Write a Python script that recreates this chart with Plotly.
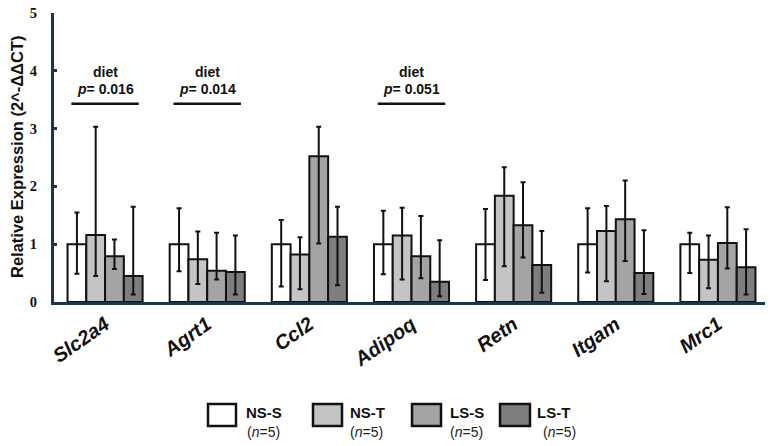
import plotly.graph_objects as go

genes = ["Slc2a4", "Agrt1", "Ccl2", "Adipoq", "Retn", "Itgam", "Mrc1"]
groups = ["NS-S", "NS-T", "LS-S", "LS-T"]
colors = ["#ffffff", "#c4c4c4", "#a4a4a4", "#7e7e7e"]

ns_s = [1.00, 1.00, 1.00, 1.00, 1.00, 1.00, 1.00]
ns_t = [1.16, 0.74, 0.82, 1.15, 1.84, 1.23, 0.73]
ls_s = [0.79, 0.54, 2.52, 0.79, 1.33, 1.43, 1.02]
ls_t = [0.45, 0.52, 1.13, 0.35, 0.64, 0.50, 0.60]

ns_s_hi = [1.55, 1.62, 1.42, 1.58, 1.61, 1.62, 1.20]
ns_s_lo = [0.49, 0.53, 0.27, 0.48, 0.38, 0.51, 0.50]
ns_t_hi = [3.03, 1.22, 1.12, 1.63, 2.33, 1.66, 1.15]
ns_t_lo = [0.45, 0.31, 0.22, 0.39, 0.62, 0.36, 0.24]
ls_s_hi = [1.08, 1.20, 3.03, 1.49, 2.07, 2.10, 1.64]
ls_s_lo = [0.57, 0.39, 1.01, 0.41, 0.77, 0.71, 0.58]
ls_t_hi = [1.65, 1.15, 1.65, 1.07, 1.23, 1.24, 1.26]
ls_t_lo = [0.13, 0.13, 0.29, 0.10, 0.16, 0.14, 0.13]

stat_genes = ["Slc2a4", "Agrt1", "Adipoq"]
stat_p = ["0.016", "0.014", "0.051"]

means = [ns_s, ns_t, ls_s, ls_t]
his = [ns_s_hi, ns_t_hi, ls_s_hi, ls_t_hi]
los = [ns_s_lo, ns_t_lo, ls_s_lo, ls_t_lo]

# the page places the figure 8 px in from the top-left corner
OFF = 8
W, H = 773 - OFF, 446 - OFF
ML, MR, MT, MB = 46, 4, 5, 144
PW, PH = W - ML - MR, H - MT - MB


def px(x, y):
    # screen pixel -> paper coords
    return (x - OFF - ML) / PW, (H - MB - (y - OFF)) / PH


fig = go.Figure()
for name, col, m, hi, lo in zip(groups, colors, means, his, los):
    fig.add_trace(go.Bar(
        x=genes, y=m, name=name,
        marker=dict(color=col, line=dict(color="#111111", width=2)),
        error_y=dict(type="data", symmetric=False,
                     array=[h - v for h, v in zip(hi, m)],
                     arrayminus=[v - l for v, l in zip(m, lo)],
                     color="#111111", thickness=2, width=2.5),
        showlegend=False,
    ))

shapes = []
annotations = []
for g, p in zip(stat_genes, stat_p):
    i = genes.index(g)
    shapes.append(dict(type="line", xref="x", yref="y", x0=i - 0.33, x1=i + 0.33,
                       y0=3.43, y1=3.43, line=dict(color="#111111", width=2.5)))
    annotations.append(dict(x=g, y=3.98, xref="x", yref="y", text="<b>diet</b>",
                            showarrow=False, font=dict(family="Liberation Sans", size=14, color="#111111")))
    annotations.append(dict(x=g, y=3.68, xref="x", yref="y", text="<b><i>p</i>= " + p + "</b>",
                            showarrow=False, font=dict(family="Liberation Sans", size=14, color="#111111")))

# custom legend
leg_boxes = [(208, 236), (313, 342), (412, 441), (500, 530)]
leg_text_x = [244, 348, 448, 535]
leg_n_x = [245, 348, 448, 541]
for (x0, x1), tx, nx, name, col in zip(leg_boxes, leg_text_x, leg_n_x, groups, colors):
    a0, b0 = px(x0, 426)
    a1, b1 = px(x1, 404)
    shapes.append(dict(type="rect", xref="paper", yref="paper", x0=a0, x1=a1, y0=b0, y1=b1,
                       fillcolor=col, line=dict(color="#111111", width=2.5)))
    ax, ay = px(tx, 412)
    annotations.append(dict(x=ax, y=ay, xref="paper", yref="paper", xanchor="left", yanchor="middle",
                            text="<b>" + name + "</b>", showarrow=False,
                            font=dict(family="Liberation Sans", size=15, color="#111111")))
    bx, by = px(nx, 432)
    annotations.append(dict(x=bx, y=by, xref="paper", yref="paper", xanchor="left", yanchor="middle",
                            text="(<i>n</i>=5)", showarrow=False,
                            font=dict(family="Liberation Sans", size=14, color="#222222")))

# y-axis title as annotation
tx, ty = px(17, 157)
annotations.append(dict(x=tx, y=ty, xref="paper", yref="paper", xanchor="center", yanchor="middle",
                        text="<b>Relative Expression (2^-ΔΔCT)</b>", textangle=-90, showarrow=False,
                        font=dict(family="Liberation Sans", size=16.5, color="#111111")))

fig.update_layout(
    width=W, height=H,
    margin=dict(l=ML, r=MR, t=MT, b=MB, pad=0),
    plot_bgcolor="white", paper_bgcolor="white",
    barmode="group", bargap=0.265, bargroupgap=0,
    shapes=shapes, annotations=annotations,
    xaxis=dict(
        tickmode="array", tickvals=genes,
        ticktext=["<b><i>" + g + "</i></b>" for g in genes],
        tickangle=-35, tickfont=dict(family="Liberation Sans", size=20, color="#111111"),
        showline=True, linecolor="#1b3550", linewidth=3, ticks="",
        showgrid=False, zeroline=False, range=[-0.5, 6.5], automargin=False,
    ),
    yaxis=dict(
        range=[0, 5], tickvals=[0, 1, 2, 3, 4, 5],
        tickfont=dict(family="Liberation Serif", size=14.5, color="#111111", weight="bold"),
        showline=True, linecolor="#1b3550", linewidth=3,
        ticks="inside", ticklen=3, tickwidth=3, tickcolor="#1b3550",
        ticklabelstandoff=11, ticklabeloverflow="allow", automargin=False,
        showgrid=False, zeroline=False,
    ),
)

fig.write_html("out.html")
